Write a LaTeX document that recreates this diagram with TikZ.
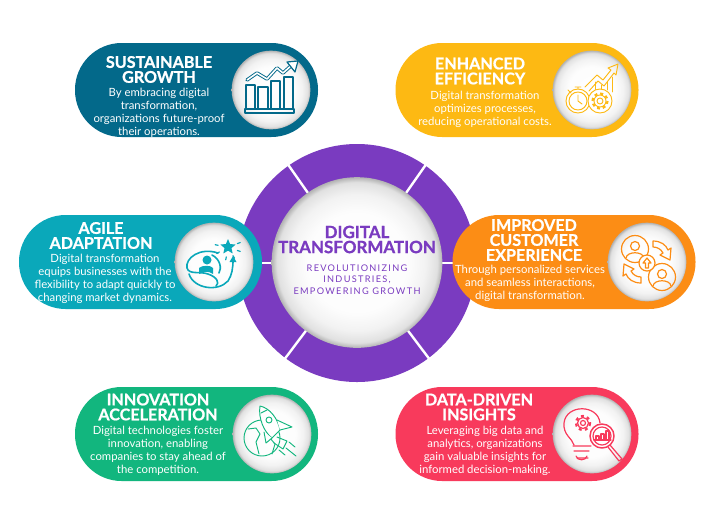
\documentclass[tikz,border=0pt]{standalone}
\usepackage{fontspec}
\setmainfont{Lato}[BoldFeatures={FakeBold=0.9}]
\usetikzlibrary{shapes.geometric,calc}
\definecolor{cteal}{HTML}{03698A}
\definecolor{cyellow}{HTML}{FDB913}
\definecolor{ccyan}{HTML}{0AA8BA}
\definecolor{corange}{HTML}{FC8D15}
\definecolor{cgreen}{HTML}{12B67E}
\definecolor{cred}{HTML}{F83A5C}
\definecolor{cpurple}{HTML}{7A3BC0}
\pgfdeclareradialshading{ballshade}{\pgfpointorigin}{rgb(0bp)=(1,1,1); rgb(15bp)=(0.99,0.99,0.99); rgb(20bp)=(0.95,0.95,0.95); rgb(23.5bp)=(0.88,0.88,0.88); rgb(25bp)=(0.7,0.7,0.7); rgb(50bp)=(0.7,0.7,0.7)}
\tikzset{
  pill/.style={rounded corners=35pt,minimum width=182.25pt,minimum height=70.5pt,inner sep=0pt,outer sep=0pt},
  ball/.style={circle,shading=ballshade,minimum size=59pt,inner sep=0pt},
  bigball/.style={circle,shading=ballshade,minimum size=128pt,inner sep=0pt},
  headtxt/.style={text=white,align=center,inner sep=0pt,font=\fontsize{12.1}{11.2}\selectfont\bfseries},
  bodytxt/.style={text=white,align=center,inner sep=0pt,font=\fontsize{8.5}{9.75}\selectfont},
  gapline/.style={white,line width=1.8pt},
  ico/.style={line width=0.9pt,line join=round,line cap=round},
  lightico/.style={line width=0.7pt,line join=round,line cap=round}
}
\begin{document}
\begin{tikzpicture}[x=0.75pt,y=-0.75pt]
\useasboundingbox (0,0) rectangle (712,515);
\fill[white] (0,0) rectangle (712,515);
% ring
\node[circle,fill=cpurple,minimum size=178.5pt,inner sep=0pt] (ring) at (357,263) {};
\foreach \a in {0,53,127,180,235,305}{
  \draw[gapline] (ring.center) -- ++(\a:125) ;
}
% pills
\node[pill,fill=cteal] (p1) at (196.5,90) {};
\node[pill,fill=cyellow] (p2) at (517,90) {};
\node[pill,fill=ccyan] (p3) at (140.5,262) {};
\node[pill,fill=corange] (p4) at (574,262) {};
\node[pill,fill=cgreen] (p5) at (196.5,434) {};
\node[pill,fill=cred] (p6) at (517,434) {};
% balls
\node[bigball] (core) at (357,262.5) {};
\node[ball] (b1) at (271,90) {};
\node[ball] (b2) at (592,90) {};
\node[ball] (b3) at (214,262) {};
\node[ball] (b4) at (647,262) {};
\node[ball] (b5) at (272,434) {};
\node[ball] (b6) at (592,434) {};
% centre text
\node[text=cpurple,align=center,inner sep=0pt,font=\fontsize{12.7}{11.25}\selectfont\bfseries] (t0) at (357,239.5) {DIGITAL\\TRANSFORMATION};
\node[text=cpurple,align=center,inner sep=0pt,font=\fontsize{6.9}{8.6}\selectfont\addfontfeature{LetterSpace=14}] (s0) at (357,279.5) {REVOLUTIONIZING\\INDUSTRIES,\\EMPOWERING GROWTH};
% pill text
\node[headtxt] (t1) at (159,69.5) {SUSTAINABLE\\GROWTH};
\node[bodytxt] (d1) at (159,112.5) {By embracing digital\\transformation,\\organizations future-proof\\their operations.};
\node[headtxt] (t2) at (480,71) {ENHANCED\\EFFICIENCY};
\node[bodytxt] (d2) at (485,109) {Digital transformation\\optimizes processes,\\reducing operational costs.};
\node[headtxt] (t3) at (101,235.5) {AGILE\\ADAPTATION};
\node[bodytxt] (d3) at (105,278.5) {Digital transformation\\equips businesses with the\\flexibility to adapt quickly to\\changing market dynamics.};
\node[headtxt] (t4) at (534,240) {IMPROVED\\CUSTOMER\\EXPERIENCE};
\node[bodytxt] (d4) at (530,283.5) {Through personalized services\\and seamless interactions,\\digital transformation.};
\node[headtxt] (t5) at (158,407) {INNOVATION\\ACCELERATION};
\node[bodytxt] (d5) at (158,450.5) {Digital technologies foster\\innovation, enabling\\companies to stay ahead of\\the competition.};
\node[headtxt] (t6) at (479,407) {DATA-DRIVEN\\INSIGHTS};
\node[bodytxt] (d6) at (485,450.5) {Leveraging big data and\\analytics, organizations\\gain valuable insights for\\informed decision-making.};
% icon 1: growth
\begin{scope}[shift={(b1.center)},cteal,ico]
  \foreach \xa/\xb/\yt in {-25/-16/-5,-13/-3/-3,0/9/-9,13/22/-13}{
    \draw (\xa,19) -- (\xa,\yt) -- (\xb,\yt) -- (\xb,19);
  }
  \draw (-26,19) rectangle (23,23);
  \draw[line width=2.6pt] (-24,-10) -- (-14,-17) -- (-4,-11) -- (6,-22) -- (12,-17) -- (22,-26);
  \draw[white,line width=1.2pt,line cap=butt] (-24,-10) -- (-14,-17) -- (-4,-11) -- (6,-22) -- (12,-17) -- (22,-26);
  \fill[white,draw=cteal] (16,-28) -- (27,-29) -- (24,-18) -- cycle;
\end{scope}
% icon 2: efficiency
\begin{scope}[shift={(b2.center)},cyellow,lightico]
  \draw (-7,-3) -- (5,-15) -- (11,-10) -- (19,-20) -- (16,-22) -- (26,-26) -- (24,-15) -- (22,-17) -- (12,-4) -- (6,-9) -- (-3,1);
  \draw (3,-8) -- (3,0) (9,-5) -- (9,0) (15,-8) -- (15,0) (20,-13) -- (20,2);
  \draw[fill=white] (-14,11) circle (12);
  \draw (-14,11) circle (9);
  \draw (-14,5) -- (-14,11) -- (-10,14);
  \draw (-17,-3) -- (-11,-3) (-14,-3) -- (-14,-1) (-24,0) -- (-21,3);
  \draw[fill=white] (8,11) circle (12);
  \draw[line width=1.6pt,dash pattern=on 2.2pt off 2.2pt,line cap=butt] (8,11) circle (7.5);
  \draw (8,11) circle (6) (8,11) circle (3);
\end{scope}
% icon 3: agile
\begin{scope}[shift={(b3.center)},ccyan,ico]
  \node[star,star points=5,star point ratio=2.2,fill=ccyan,inner sep=0pt,minimum size=12pt] (st) at (14,-15) {};
  \foreach \a in {20,60,100,150,190,340}{ \draw (st.center) ++(\a:10) -- ++(\a:3); }
  \fill (-7,-2) circle (4.5);
  \fill (-15,12) -- (-15,6) .. controls (-12,3) and (-3,3) .. (-1,6) -- (-1,12) .. controls (-5,9) and (-10,9) .. (-15,12) -- cycle;
  \draw[line width=1.2pt] (4,-9) .. controls (-14,-15) and (-29,-4) .. (-27,6) .. controls (-25,13) and (-14,9) .. (-6,12) .. controls (3,15) and (6,21) .. (2,24);
  \draw[line width=1.2pt] (-25,12) .. controls (-20,27) and (4,30) .. (14,19) .. controls (18,13) and (19,6) .. (19,-2);
  \fill (15.5,0) -- (19,-6) -- (22.5,0) -- cycle;
  \draw[line width=1.2pt] (-2,-7) .. controls (6,-3) and (8,6) .. (5,11);
\end{scope}
% icon 4: customer
\begin{scope}[shift={(b4.center)},corange,ico]
  \draw (-12,-13) circle (13.5);
  \draw (15,15) circle (13.5);
  \draw (-12,-16) circle (4.5);
  \draw (-21,-4) .. controls (-20,-11) and (-4,-11) .. (-3,-4);
  \draw (15,12) circle (4.5);
  \draw (6,24) .. controls (7,17) and (23,17) .. (24,24);
  \draw[fill=white] (0,1) circle (8);
  \draw (-1.5,6) -- (-1.5,1) -- (-4,1) -- (0,-4) -- (4,1) -- (1.5,1) -- (1.5,6) -- cycle;
  \draw (6,-21) .. controls (14,-21) and (19,-17) .. (21,-12) -- (24,-14) -- (23,-2) -- (13,-7) -- (16,-9) .. controls (14,-13) and (10,-15) .. (6,-15) -- cycle;
  \draw (-6,21) .. controls (-14,21) and (-19,17) .. (-21,12) -- (-24,14) -- (-23,2) -- (-13,7) -- (-16,9) .. controls (-14,13) and (-10,15) .. (-6,15) -- cycle;
\end{scope}
% icon 5: rocket
\begin{scope}[shift={(b5.center)},cgreen,lightico]
  \draw (-10,4) circle (18);
  \draw (-24,-5) -- (-16,-6) -- (-12,0) -- (-16,8) -- (-13,20);
  \draw (-2,4) -- (3,10) -- (0,20);
  \draw[fill=white] (-12,-28) .. controls (-2,-26) and (6,-15) .. (8,-4) -- (0,4) .. controls (-8,-2) and (-14,-16) .. (-12,-28) -- cycle;
  \draw (-11,-21) -- (-5,-24);
  \draw (-3,-14) circle (3);
  \draw[fill=white] (5,-14) -- (20,-7) -- (8,-4);
  \draw[fill=white] (-8,-2) -- (-6,9) -- (0,4);
  \draw (5,3) -- (15,7) -- (11,15) -- (2,9);
  \draw (17,8) -- (23,13) (14,14) -- (24,22) (7,16) -- (13,21);
\end{scope}
% icon 6: insights
\begin{scope}[shift={(b6.center)},cred,ico]
  \draw (-4,24) -- (-15,24) (-18,11) .. controls (-20,4) and (-29,1) .. (-28,-11) .. controls (-26,-30) and (6,-30) .. (8,-11);
  \draw (-19,12) -- (-1,12) (-18,17) -- (-3,17) (-16,22) .. controls (-15,27) and (-6,27) .. (-5,22);
  \draw[line width=1.7pt,dash pattern=on 2.2pt off 2.4pt,line cap=butt] (-9,-11) circle (7);
  \draw (-9,-11) circle (5.5) (-9,-11) circle (2.5);
  \draw[line width=1.1pt,fill=white] (10,2) circle (12);
  \draw (10,2) circle (9);
  \draw (18,11) -- (30,25) -- (27,27) -- (16,13);
  \draw (4,6) rectangle (7,2);
  \draw (9,6) rectangle (12,0);
  \draw (14,6) rectangle (17,-3);
  \draw (2,6) -- (19,6);
\end{scope}
\end{tikzpicture}
\end{document}
